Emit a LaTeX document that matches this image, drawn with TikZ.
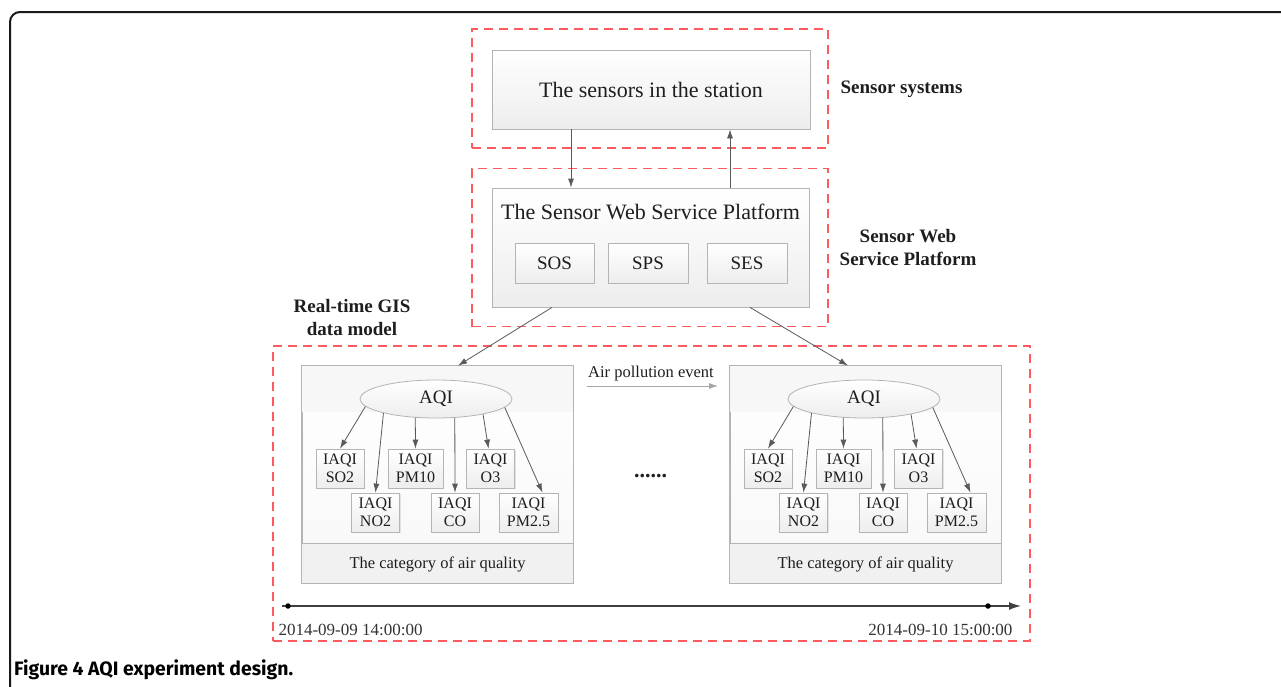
\documentclass[tikz,border=0pt]{standalone}
\usepackage{fontspec}
\setmainfont{Liberation Serif}
\newfontfamily\capfont{Fira Sans}
\usetikzlibrary{arrows.meta,shapes.geometric,shadows}
\definecolor{dashred}{HTML}{FF5A5F}
\definecolor{boxline}{HTML}{B4B4B4}
\definecolor{arrgray}{HTML}{5A5A5A}
\definecolor{txt}{HTML}{1E1E1E}
\newcommand\fsz[1]{\fontsize{#1}{#1}\selectfont}
\tikzset{
  grp/.style={draw=dashred, line width=1.8pt, dash pattern=on 9pt off 6pt, rectangle, inner sep=0pt},
  gbox/.style={draw=boxline, line width=0.8pt, top color=white, bottom color=gray!14, inner sep=0pt, text=txt,
    drop shadow={shadow xshift=1.2pt, shadow yshift=-1.2pt, fill=gray!40, opacity=0.5}},
  ibox/.style={gbox, minimum width=48pt, minimum height=39pt, align=center, font=\fontsize{16}{18}\selectfont},
  framebox/.style={draw=boxline, line width=0.8pt, top color=white, bottom color=gray!6, inner sep=0pt,
    drop shadow={shadow xshift=1.2pt, shadow yshift=-1.2pt, fill=gray!40, opacity=0.5}},
  arr/.style={draw=arrgray, line width=0.8pt, -{Latex[length=9pt,width=6pt]}},
  blabel/.style={font=\bfseries\fontsize{19}{23}\selectfont, align=center, text=txt},
}
\newcommand\aqiunit{%
  \node[framebox, minimum width=271pt, minimum height=217pt] (frame) at (437.5,474.5) {};
  \fill[gray!6] (frame.north west) rectangle ([yshift=-46pt]frame.north east);
  \fill[gray!11] ([yshift=40pt]frame.south west) rectangle (frame.south east);
  \draw[boxline, line width=0.8pt] ([yshift=40pt]frame.south west) -- ([yshift=40pt]frame.south east);
  \draw[boxline, line width=0.8pt] (frame.north west) rectangle (frame.south east);
  \node[ellipse, draw=boxline, line width=0.8pt, top color=white, bottom color=gray!14, minimum width=152pt, minimum height=38pt, inner sep=0pt, text=txt, font=\fsz{19}] (aqi) at (436,399) {AQI};
  \node[ibox] (so2) at (340,468.5) {IAQI\\SO2};
  \node[ibox, minimum width=55pt] (pm10) at (415.5,468.5) {IAQI\\PM10};
  \node[ibox] (o3) at (490.5,468.5) {IAQI\\O3};
  \node[ibox] (no2) at (375.5,512.5) {IAQI\\NO2};
  \node[ibox] (co) at (455,512.5) {IAQI\\CO};
  \node[ibox, minimum width=59pt] (pm25) at (528.5,512.5) {IAQI\\PM2.5};
  \draw[arr] (aqi.186) -- (so2.north);
  \draw[arr] (aqi.195) -- (no2.north);
  \draw[arr] (aqi.222) -- (pm10.north);
  \draw[arr] (aqi.315) -- (co.north);
  \draw[arr] (aqi.342) -- ([xshift=-2pt]o3.north);
  \draw[arr] (aqi.353) -- ([xshift=14pt]pm25.north);
  \node[font=\fsz{16.5}, text=txt] (cat) at (437.5,564) {The category of air quality};
}
\begin{document}
\begin{tikzpicture}[x=1pt,y=-1pt]
\useasboundingbox (0,0) rectangle (1281,686);
% outer frame
\draw[line width=2pt, rounded corners=10pt, color=black!90] (10,700) -- (10,12) -- (1300,12);
% group boxes
\node[grp, minimum width=356pt, minimum height=119pt] (gsens) at (650,88.5) {};
\node[grp, minimum width=356pt, minimum height=158pt] (gplat) at (650,247.5) {};
\node[grp, minimum width=757pt, minimum height=295pt] (gdata) at (651.5,493.5) {};
% sensors
\node[gbox, minimum width=318pt, minimum height=79pt, font=\fsz{22}] (sens) at (651,89.5) {The sensors in the station};
\node[blabel, anchor=west] (lsens) at (837,89) {Sensor systems};
% platform
\node[gbox, minimum width=317pt, minimum height=119pt] (plat) at (650.5,247.5) {};
\node[font=\fsz{22}, text=txt] (plattitle) at (650.5,212) {The Sensor Web Service Platform};
\node[gbox, minimum width=79pt, minimum height=40pt, font=\fsz{19}] (sos) at (554.5,263) {SOS};
\node[gbox, minimum width=80pt, minimum height=40pt, font=\fsz{19}] (sps) at (648,263) {SPS};
\node[gbox, minimum width=80pt, minimum height=40pt, font=\fsz{19}] (ses) at (747,263) {SES};
\node[blabel] (lplat) at (908,247.5) {Sensor Web\\Service Platform};
\draw[arr] ([xshift=-80pt]sens.south) -- ([xshift=-79.5pt]plat.north);
\draw[arr] ([xshift=79.5pt]plat.north) -- ([xshift=79pt]sens.south);
% data model
\node[blabel] (ldata) at (352,317) {Real-time GIS\\data model};
\begin{scope}[name prefix=l-]
\aqiunit
\end{scope}
\begin{scope}[xshift=428pt, name prefix=r-]
\aqiunit
\end{scope}
\draw[arr] ([xshift=-98.5pt]plat.south) -- ([xshift=20.5pt]l-frame.north);
\draw[arr] ([xshift=99.5pt]plat.south) -- ([xshift=-17.5pt]r-frame.north);
% air pollution event
\node[font=\fsz{16.5}, text=txt] (ape) at (651,374) {Air pollution event};
\coordinate (ape0) at (587,386);
\coordinate (ape1) at (718,386);
\draw[arr, draw=gray!70] (ape0) -- (ape1);
\node[font=\bfseries\fsz{22}, text=txt] (dots) at (650.5,476) {......};
% timeline
\coordinate (t0) at (282,606);
\coordinate (t1) at (1021,606);
\draw[line width=1.4pt, draw=black!75, -{Latex[length=12pt,width=8pt]}] (t0) -- (t1);
\node[circle, fill=black, inner sep=0pt, minimum size=5.5pt] (d0) at (288,606) {};
\node[circle, fill=black, inner sep=0pt, minimum size=5.5pt] (d1) at (988,606) {};
\node[anchor=base west, font=\fsz{17}, text=black!80] (date0) at (275,635) {2014-09-09 14:00:00};
\node[anchor=base east, font=\fsz{17}, text=black!80] (date1) at (1016,635) {2014-09-10 15:00:00};
% caption
\node[anchor=base west, inner sep=0pt, font=\capfont\bfseries\fsz{19.4}] (cap) at (14,675) {Figure 4 AQI experiment design.};
\end{tikzpicture}
\end{document}
